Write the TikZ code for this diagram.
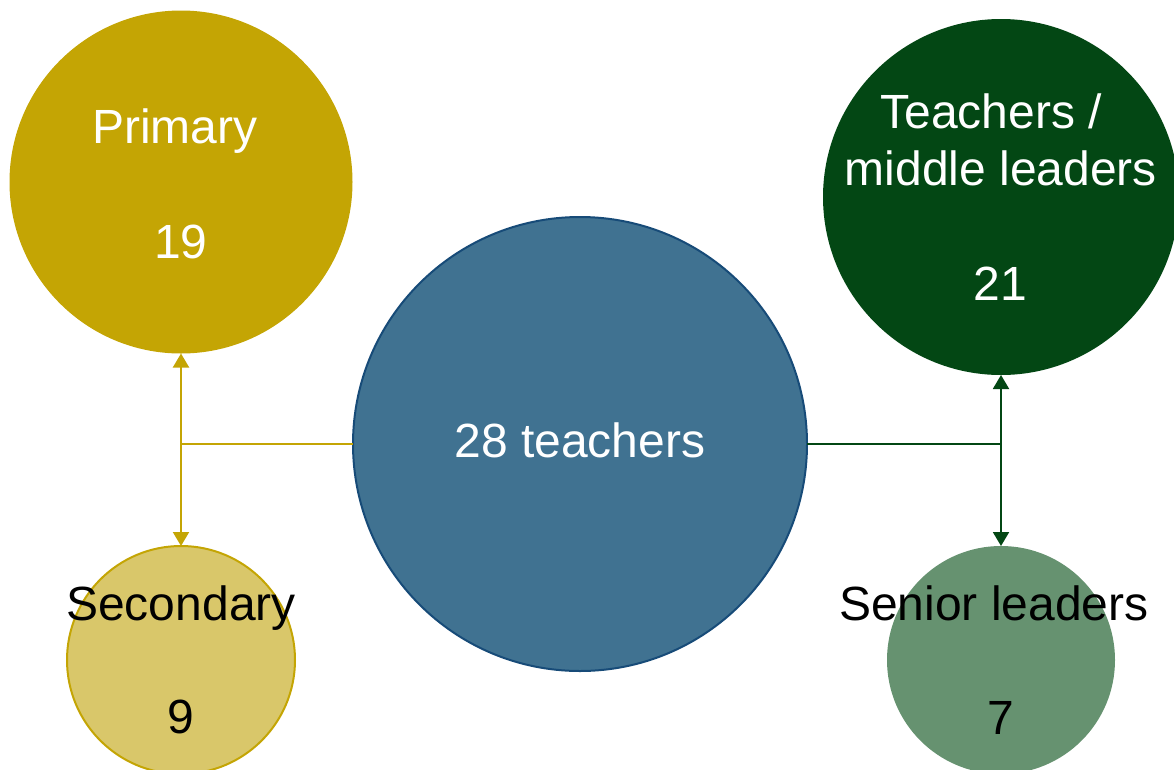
\documentclass[tikz,border=0pt]{standalone}
\usepackage{fontspec}
\setmainfont{Liberation Sans}
\usetikzlibrary{arrows.meta}
\definecolor{gold}{HTML}{C4A504}
\definecolor{lightgold}{HTML}{D9C76A}
\definecolor{steel}{HTML}{407291}
\definecolor{steeldark}{HTML}{174B78}
\definecolor{darkgreen}{HTML}{034714}
\definecolor{sage}{HTML}{669270}
\tikzset{
  bubble/.style={circle, inner sep=0pt, outer sep=0pt},
  lbl/.style={anchor=base, font=\fontsize{48}{57.5}\selectfont, inner sep=0pt},
  link/.style={line width=2pt},
  tip/.style={-{Triangle[width=16pt,length=14pt]}}
}
\begin{document}
\begin{tikzpicture}[x=1pt,y=-1pt]
\useasboundingbox (0,0) rectangle (1174,769);
\clip (0,0) rectangle (1174,769);
% circles
\node[bubble, fill=gold, minimum size=343pt] (primary) at (181,182) {};
\node[bubble, fill=lightgold, draw=gold, line width=2pt, minimum size=228pt] (secondary) at (181,660) {};
\node[bubble, fill=steel, draw=steeldark, line width=2pt, minimum size=454pt] (total) at (580,444) {};
\node[bubble, fill=darkgreen, minimum size=356pt] (middle) at (1001,197) {};
\node[bubble, fill=sage, minimum size=228pt] (senior) at (1001,660) {};
% labels
\node[lbl, white] (primary-t) at (175,143) {Primary};
\node[lbl, white] (primary-n) at (181,258) {19};
\node[lbl, black] (secondary-t) at (181,620) {Secondary};
\node[lbl, black] (secondary-n) at (181,733) {9};
\node[lbl, white] (total-t) at (580,457) {28 teachers};
\node[lbl, white] (middle-t1) at (991,128) {Teachers /};
\node[lbl, white] (middle-t2) at (1001,185) {middle leaders};
\node[lbl, white] (middle-n) at (1000,300) {21};
\node[lbl, black] (senior-t) at (994,620) {Senior leaders};
\node[lbl, black] (senior-n) at (1001,734) {7};
% connectors
\coordinate (gj) at (181,444);
\coordinate (dj) at (1001,444);
\draw[link, gold] (total.west) -- (gj);
\draw[link, gold, tip] (gj) -- (primary.south);
\draw[link, gold, tip] (gj) -- (secondary.north);
\draw[link, darkgreen] (total.east) -- (dj);
\draw[link, darkgreen, tip] (dj) -- (middle.south);
\draw[link, darkgreen, tip] (dj) -- (senior.north);
\end{tikzpicture}
\end{document}
